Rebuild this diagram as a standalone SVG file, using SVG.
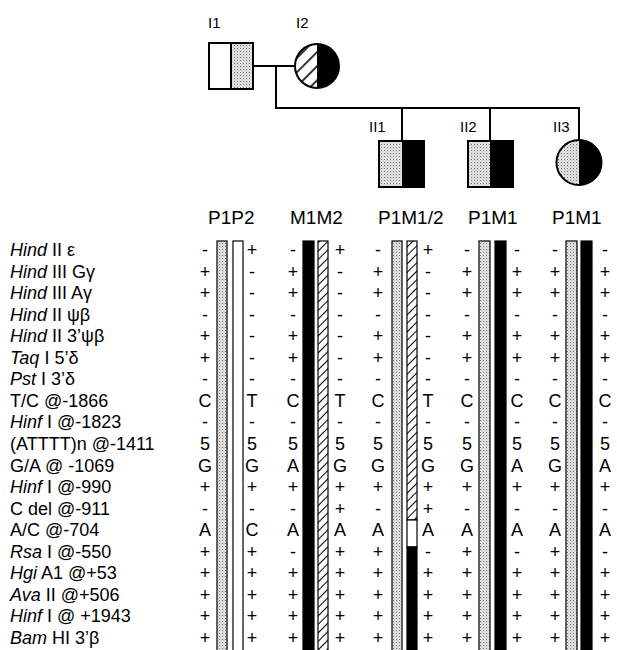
<svg xmlns="http://www.w3.org/2000/svg" width="617" height="650" viewBox="0 0 617 650">
<style>
.t{font-family:"Liberation Sans",Arial,sans-serif;fill:#000}
.lab{font-size:18px}
.hd{font-size:19px}
.ped{font-size:15px}
.d{font-size:18px;text-anchor:middle}
.i{font-style:italic}
.ln{stroke:#000;stroke-width:2;fill:none}
.bar{stroke:#000;stroke-width:1.2}
</style>
<defs>
<pattern id="stip" width="3" height="3" patternUnits="userSpaceOnUse"><rect width="3" height="3" fill="#e4e4e4"/><rect width="1" height="1" fill="#6e6e6e"/><rect x="1.5" y="1.5" width="0.8" height="0.8" fill="#9a9a9a"/></pattern>
<pattern id="hatch" width="6" height="6" patternUnits="userSpaceOnUse" patternTransform="rotate(45)"><rect width="6" height="6" fill="#fff"/><line x1="0.5" y1="0" x2="0.5" y2="6" stroke="#000" stroke-width="1"/></pattern>
<pattern id="phatch" width="10" height="10" patternUnits="userSpaceOnUse" patternTransform="rotate(45)"><rect width="10" height="10" fill="#fff"/><line x1="1" y1="0" x2="1" y2="10" stroke="#000" stroke-width="1.6"/></pattern>
</defs>

<g id="connectors">
<line class="ln" x1="253" y1="66" x2="295" y2="66"/>
<line class="ln" x1="276" y1="66" x2="276" y2="108"/>
<line class="ln" x1="275" y1="108" x2="580" y2="108"/>
<line class="ln" x1="402" y1="108" x2="402" y2="141"/>
<line class="ln" x1="490" y1="108" x2="490" y2="141"/>
<line class="ln" x1="579" y1="107" x2="579" y2="140"/>
</g>

<g id="I1">
<text class="t ped" x="208" y="28">I1</text>
<rect x="209" y="43" width="22" height="46" fill="#fff"/>
<rect x="231" y="43" width="22" height="46" fill="url(#stip)"/>
<line class="ln" x1="231" y1="43" x2="231" y2="89"/>
<rect class="ln" x="209" y="43" width="44" height="46"/>
</g>

<g id="I2">
<text class="t ped" x="296" y="28">I2</text>
<path d="M317,44 A22,22 0 0,0 317,88 Z" fill="url(#phatch)"/>
<path d="M317,44 A22,22 0 0,1 317,88 Z" fill="#000"/>
<circle class="ln" cx="317" cy="66" r="22"/>
</g>

<g id="II1">
<text class="t ped" x="369" y="132">II1</text>
<rect x="379" y="141" width="23" height="46" fill="url(#stip)"/>
<rect x="402" y="141" width="22" height="46" fill="#000"/>
<rect class="ln" x="379" y="141" width="45" height="46"/>
</g>

<g id="II2">
<text class="t ped" x="460" y="132">II2</text>
<rect x="468" y="141" width="22" height="46" fill="url(#stip)"/>
<rect x="490" y="141" width="23" height="46" fill="#000"/>
<rect class="ln" x="468" y="141" width="45" height="46"/>
</g>

<g id="II3">
<text class="t ped" x="553" y="132">II3</text>
<path d="M579,140 A22.5,22.5 0 0,0 579,185 Z" fill="url(#stip)"/>
<path d="M579,140 A22.5,22.5 0 0,1 579,185 Z" fill="#000"/>
<circle class="ln" cx="579" cy="162.5" r="22.5"/>
</g>

<g id="headers" class="t hd">
<text x="208" y="224">P1P2</text>
<text x="290" y="224">M1M2</text>
<text x="378" y="224">P1M1/2</text>
<text x="468" y="224">P1M1</text>
<text x="552" y="224">P1M1</text>
</g>

<g id="bars">
<rect class="bar" x="217" y="241" width="10" height="415" fill="url(#stip)"/>
<rect class="bar" x="233" y="241" width="10" height="415" fill="#fff"/>
<rect class="bar" x="303" y="241" width="11" height="415" fill="#000"/>
<rect class="bar" x="318" y="241" width="10" height="415" fill="url(#hatch)"/>
<rect class="bar" x="392" y="241" width="10" height="415" fill="url(#stip)"/>
<rect class="bar" x="407" y="241" width="10" height="279" fill="url(#hatch)"/>
<rect class="bar" x="407" y="520" width="10" height="27" fill="#fff"/>
<rect class="bar" x="407" y="547" width="10" height="108" fill="#000"/>
<rect class="bar" x="479" y="241" width="11" height="415" fill="url(#stip)"/>
<rect class="bar" x="495" y="241" width="11" height="415" fill="#000"/>
<rect class="bar" x="566" y="241" width="11" height="415" fill="url(#stip)"/>
<rect class="bar" x="581" y="241" width="11" height="415" fill="#000"/>
</g>

<g id="labels" class="t lab">
<text x="10" y="256"><tspan class="i">Hind</tspan> II ε</text>
<text x="10" y="277.6"><tspan class="i">Hind</tspan> III Gγ</text>
<text x="10" y="299.1"><tspan class="i">Hind</tspan> III Aγ</text>
<text x="10" y="320.7"><tspan class="i">Hind</tspan> II ψβ</text>
<text x="10" y="342.2"><tspan class="i">Hind</tspan> II 3’ψβ</text>
<text x="10" y="363.8"><tspan class="i">Taq</tspan> I 5’δ</text>
<text x="10" y="385.3"><tspan class="i">Pst</tspan> I 3’δ</text>
<text x="10" y="406.9">T/C  @-1866</text>
<text x="10" y="428.4"><tspan class="i">Hinf</tspan> I  @-1823</text>
<text x="10" y="450">(ATTTT)n  @-1411</text>
<text x="10" y="471.5">G/A  @  -1069</text>
<text x="10" y="493.1"><tspan class="i">Hinf</tspan> I  @-990</text>
<text x="10" y="514.6">C del  @-911</text>
<text x="10" y="536.2">A/C  @-704</text>
<text x="10" y="557.7"><tspan class="i">Rsa</tspan> I  @-550</text>
<text x="10" y="579.3"><tspan class="i">Hgi</tspan> A1  @+53</text>
<text x="10" y="600.8"><tspan class="i">Ava</tspan> II  @+506</text>
<text x="10" y="622.4"><tspan class="i">Hinf</tspan> I  @  +1943</text>
<text x="10" y="643.9"><tspan class="i">Bam</tspan> HI 3’β</text>
</g>

<g id="data" class="t d">
<text y="256"><tspan x="205">-</tspan><tspan x="252">+</tspan><tspan x="293">-</tspan><tspan x="340">+</tspan><tspan x="378">-</tspan><tspan x="428">+</tspan><tspan x="467">-</tspan><tspan x="517">-</tspan><tspan x="555">-</tspan><tspan x="605">-</tspan></text>
<text y="277.6"><tspan x="205">+</tspan><tspan x="252">-</tspan><tspan x="293">+</tspan><tspan x="340">-</tspan><tspan x="378">+</tspan><tspan x="428">-</tspan><tspan x="467">+</tspan><tspan x="517">+</tspan><tspan x="555">+</tspan><tspan x="605">+</tspan></text>
<text y="299.1"><tspan x="205">+</tspan><tspan x="252">-</tspan><tspan x="293">+</tspan><tspan x="340">-</tspan><tspan x="378">+</tspan><tspan x="428">-</tspan><tspan x="467">+</tspan><tspan x="517">+</tspan><tspan x="555">+</tspan><tspan x="605">+</tspan></text>
<text y="320.7"><tspan x="205">-</tspan><tspan x="252">-</tspan><tspan x="293">-</tspan><tspan x="340">-</tspan><tspan x="378">-</tspan><tspan x="428">-</tspan><tspan x="467">-</tspan><tspan x="517">-</tspan><tspan x="555">-</tspan><tspan x="605">-</tspan></text>
<text y="342.2"><tspan x="205">+</tspan><tspan x="252">-</tspan><tspan x="293">+</tspan><tspan x="340">-</tspan><tspan x="378">+</tspan><tspan x="428">-</tspan><tspan x="467">+</tspan><tspan x="517">+</tspan><tspan x="555">+</tspan><tspan x="605">+</tspan></text>
<text y="363.8"><tspan x="205">+</tspan><tspan x="252">-</tspan><tspan x="293">+</tspan><tspan x="340">-</tspan><tspan x="378">+</tspan><tspan x="428">-</tspan><tspan x="467">+</tspan><tspan x="517">+</tspan><tspan x="555">+</tspan><tspan x="605">+</tspan></text>
<text y="385.3"><tspan x="205">-</tspan><tspan x="252">-</tspan><tspan x="293">-</tspan><tspan x="340">-</tspan><tspan x="378">-</tspan><tspan x="428">-</tspan><tspan x="467">-</tspan><tspan x="517">-</tspan><tspan x="555">-</tspan><tspan x="605">-</tspan></text>
<text y="406.9"><tspan x="205">C</tspan><tspan x="252">T</tspan><tspan x="293">C</tspan><tspan x="340">T</tspan><tspan x="378">C</tspan><tspan x="428">T</tspan><tspan x="467">C</tspan><tspan x="517">C</tspan><tspan x="555">C</tspan><tspan x="605">C</tspan></text>
<text y="428.4"><tspan x="205">-</tspan><tspan x="252">-</tspan><tspan x="293">-</tspan><tspan x="340">-</tspan><tspan x="378">-</tspan><tspan x="428">-</tspan><tspan x="467">-</tspan><tspan x="517">-</tspan><tspan x="555">-</tspan><tspan x="605">-</tspan></text>
<text y="450"><tspan x="205">5</tspan><tspan x="252">5</tspan><tspan x="293">5</tspan><tspan x="340">5</tspan><tspan x="378">5</tspan><tspan x="428">5</tspan><tspan x="467">5</tspan><tspan x="517">5</tspan><tspan x="555">5</tspan><tspan x="605">5</tspan></text>
<text y="471.5"><tspan x="205">G</tspan><tspan x="252">G</tspan><tspan x="293">A</tspan><tspan x="340">G</tspan><tspan x="378">G</tspan><tspan x="428">G</tspan><tspan x="467">G</tspan><tspan x="517">A</tspan><tspan x="555">G</tspan><tspan x="605">A</tspan></text>
<text y="493.1"><tspan x="205">+</tspan><tspan x="252">+</tspan><tspan x="293">+</tspan><tspan x="340">+</tspan><tspan x="378">+</tspan><tspan x="428">+</tspan><tspan x="467">+</tspan><tspan x="517">+</tspan><tspan x="555">+</tspan><tspan x="605">+</tspan></text>
<text y="514.6"><tspan x="205">-</tspan><tspan x="252">-</tspan><tspan x="293">-</tspan><tspan x="340">+</tspan><tspan x="378">-</tspan><tspan x="428">+</tspan><tspan x="467">-</tspan><tspan x="517">-</tspan><tspan x="555">-</tspan><tspan x="605">-</tspan></text>
<text y="536.2"><tspan x="205">A</tspan><tspan x="252">C</tspan><tspan x="293">A</tspan><tspan x="340">A</tspan><tspan x="378">A</tspan><tspan x="428">A</tspan><tspan x="467">A</tspan><tspan x="517">A</tspan><tspan x="555">A</tspan><tspan x="605">A</tspan></text>
<text y="557.7"><tspan x="205">+</tspan><tspan x="252">+</tspan><tspan x="293">-</tspan><tspan x="340">+</tspan><tspan x="378">+</tspan><tspan x="428">-</tspan><tspan x="467">+</tspan><tspan x="517">-</tspan><tspan x="555">+</tspan><tspan x="605">-</tspan></text>
<text y="579.3"><tspan x="205">+</tspan><tspan x="252">+</tspan><tspan x="293">+</tspan><tspan x="340">+</tspan><tspan x="378">+</tspan><tspan x="428">+</tspan><tspan x="467">+</tspan><tspan x="517">+</tspan><tspan x="555">+</tspan><tspan x="605">+</tspan></text>
<text y="600.8"><tspan x="205">+</tspan><tspan x="252">+</tspan><tspan x="293">+</tspan><tspan x="340">+</tspan><tspan x="378">+</tspan><tspan x="428">+</tspan><tspan x="467">+</tspan><tspan x="517">+</tspan><tspan x="555">+</tspan><tspan x="605">+</tspan></text>
<text y="622.4"><tspan x="205">+</tspan><tspan x="252">+</tspan><tspan x="293">+</tspan><tspan x="340">+</tspan><tspan x="378">+</tspan><tspan x="428">+</tspan><tspan x="467">+</tspan><tspan x="517">+</tspan><tspan x="555">+</tspan><tspan x="605">+</tspan></text>
<text y="643.9"><tspan x="205">+</tspan><tspan x="252">+</tspan><tspan x="293">+</tspan><tspan x="340">+</tspan><tspan x="378">+</tspan><tspan x="428">+</tspan><tspan x="467">+</tspan><tspan x="517">+</tspan><tspan x="555">+</tspan><tspan x="605">+</tspan></text>
</g>
</svg>
